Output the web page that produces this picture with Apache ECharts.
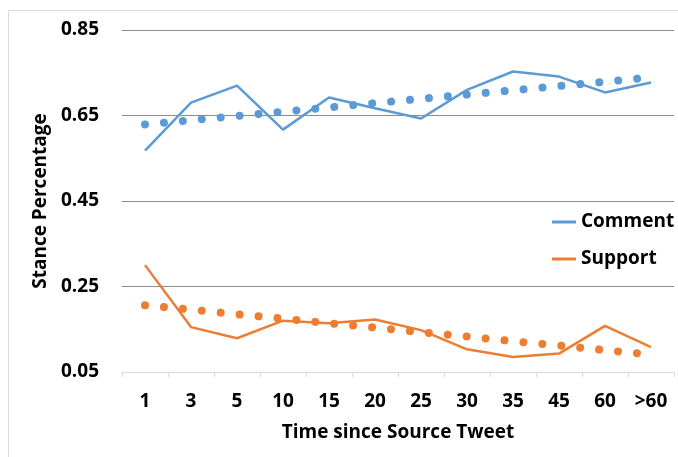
<!DOCTYPE html>
<html>
<head>
<meta charset="utf-8">
<script src="https://cdn.jsdelivr.net/npm/echarts@6/dist/echarts.min.js"></script>
<style>
  html, body { margin: 0; padding: 0; background: #fff; }
  #chart { width: 678px; height: 457px; }
</style>
</head>
<body>
<div id="chart"></div>
<script>
const categories = ['1', '3', '5', '10', '15', '20', '25', '30', '35', '45', '60', '>60'];
const yTicks = [0.05, 0.25, 0.45, 0.65, 0.85];

const commentValues = [0.568, 0.680, 0.720, 0.617, 0.692, 0.667, 0.643, 0.710, 0.753, 0.741, 0.704, 0.727];
const supportValues = [0.300, 0.155, 0.129, 0.170, 0.164, 0.173, 0.148, 0.103, 0.085, 0.093, 0.158, 0.108];

// trendlines
const commentTrend = [0.629, 0.639, 0.649, 0.659, 0.669, 0.679, 0.689, 0.699, 0.709, 0.719, 0.729, 0.739];
const supportTrend = [0.206, 0.196, 0.185, 0.175, 0.164, 0.154, 0.143, 0.133, 0.122, 0.112, 0.101, 0.091];

const blue = '#5B9BD5';
const orange = '#ED7D31';
const font = '"Open Sans", sans-serif';

const chart = echarts.init(document.getElementById('chart'));

const dotted = (color) => ({
  color: color,
  width: 8,
  type: [0.01, 19],
  cap: 'round',
});

chart.setOption({
  animation: false,
  graphic: [
    {
      type: 'rect',
      shape: { x: 8.5, y: 10.5, width: 700, height: 500 },
      style: { fill: 'none', stroke: '#d9d9d9', lineWidth: 1 },
      silent: true,
    },
  ],
  grid: { left: 122, right: 4, top: 30, bottom: 85 },
  legend: {
    data: ['Comment', 'Support'],
    orient: 'vertical',
    left: 552,
    top: 212,
    padding: 0,
    itemWidth: 24,
    itemHeight: 3,
    itemGap: 17,
    icon: 'rect',
    textStyle: { fontFamily: font, fontWeight: 'bold', fontSize: 19, color: '#000', lineHeight: 20 },
  },
  xAxis: {
    type: 'category',
    data: categories,
    boundaryGap: true,
    name: 'Time since Source Tweet',
    nameLocation: 'middle',
    nameGap: 51,
    nameTextStyle: { fontFamily: font, fontWeight: 'bold', fontSize: 19, color: '#000' },
    axisLine: { lineStyle: { color: '#d9d9d9', width: 1 } },
    axisTick: { show: true, length: 5, lineStyle: { color: '#d9d9d9' } },
    axisLabel: { fontFamily: font, fontWeight: 'bold', fontSize: 19, color: '#000', margin: 20, interval: 0 },
    splitLine: { show: false },
  },
  yAxis: {
    type: 'value',
    min: yTicks[0],
    max: yTicks[yTicks.length - 1],
    interval: 0.2,
    name: 'Stance Percentage',
    nameLocation: 'middle',
    nameGap: 69,
    nameTextStyle: { fontFamily: font, fontWeight: 'bold', fontSize: 19, color: '#000' },
    axisLine: { show: false },
    axisTick: { show: false },
    axisLabel: {
      fontFamily: font, fontWeight: 'bold', fontSize: 19, color: '#000', margin: 23,
      formatter: (v) => v.toFixed(2),
    },
    splitLine: { lineStyle: { color: '#8c8c8c', width: 1 } },
  },
  series: [
    {
      name: 'Comment trend',
      type: 'line',
      data: commentTrend,
      symbol: 'none',
      lineStyle: dotted(blue),
      itemStyle: { color: blue },
      z: 1,
    },
    {
      name: 'Support trend',
      type: 'line',
      data: supportTrend,
      symbol: 'none',
      lineStyle: dotted(orange),
      itemStyle: { color: orange },
      z: 1,
    },
    {
      name: 'Comment',
      type: 'line',
      data: commentValues,
      symbol: 'none',
      lineStyle: { color: blue, width: 2.5 },
      itemStyle: { color: blue },
      z: 2,
    },
    {
      name: 'Support',
      type: 'line',
      data: supportValues,
      symbol: 'none',
      lineStyle: { color: orange, width: 2.5 },
      itemStyle: { color: orange },
      z: 2,
    },
  ],
});
</script>
</body>
</html>
